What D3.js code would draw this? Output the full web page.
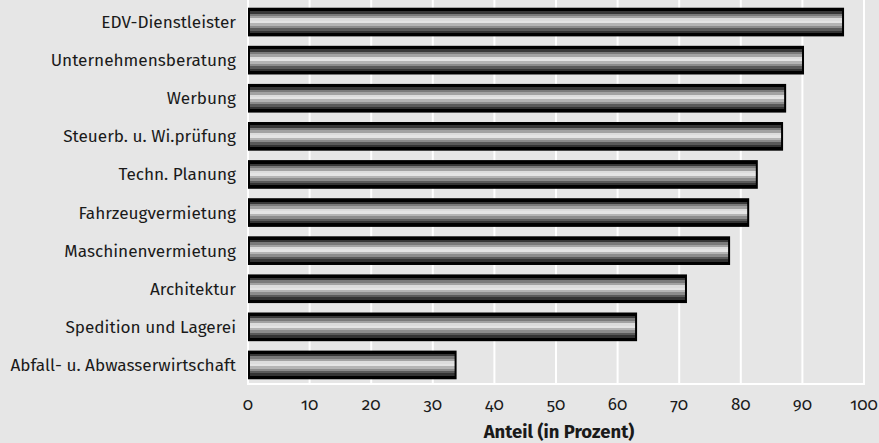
<!DOCTYPE html>
<html>
<head>
<meta charset="utf-8">
<script src="https://cdn.jsdelivr.net/npm/d3@7"></script>
<style>
  body { margin: 0; background: #e6e6e6; }
  text { font-family: "Fira Sans", "Open Sans", "Noto Sans", sans-serif; fill: #1a1a1a; }
</style>
</head>
<body>
<svg id="chart" width="879" height="443"></svg>
<script>
// Branchen und Anteile (in Prozent)
const categories = [
  "EDV-Dienstleister",
  "Unternehmensberatung",
  "Werbung",
  "Steuerb. u. Wi.prüfung",
  "Techn. Planung",
  "Fahrzeugvermietung",
  "Maschinenvermietung",
  "Architektur",
  "Spedition und Lagerei",
  "Abfall- u. Abwasserwirtschaft"
];
const values = [96.6, 90.1, 87.2, 86.7, 82.6, 81.2, 78.1, 71.1, 63.0, 33.7];
const xTicks = [0, 10, 20, 30, 40, 50, 60, 70, 80, 90, 100];

const svg = d3.select("#chart");
const W = 879, H = 443;

svg.append("rect").attr("width", W).attr("height", H).attr("fill", "#e6e6e6");

const x = d3.scaleLinear().domain([0, 100]).range([248, 864]);
const y = d3.scaleBand().domain(categories).range([3, 384])
    .paddingInner(0.3).paddingOuter(0.15);

// Gradient for the bars (horizontal stripes)
const stripes = ["#000", "#383838", "#7a7a7a", "#a2a2a2", "#dcdcdc", "#e4e4e4",
                 "#b4b4b4", "#8c8c8c", "#5a5a5a", "#333", "#000"];
const grad = svg.append("defs").append("linearGradient")
    .attr("id", "barGrad")
    .attr("x1", "0%").attr("y1", "0%")
    .attr("x2", "0%").attr("y2", "100%");
stripes.forEach((c, i) => {
    grad.append("stop").attr("offset", (i / stripes.length * 100) + "%").attr("stop-color", c);
    grad.append("stop").attr("offset", ((i + 1) / stripes.length * 100) + "%").attr("stop-color", c);
});

// Grid lines
svg.append("g").selectAll("line")
    .data(xTicks)
    .enter().append("line")
    .attr("x1", d => x(d)).attr("x2", d => x(d))
    .attr("y1", 0).attr("y2", 384)
    .attr("stroke", "#fff").attr("stroke-width", 2);

svg.append("line")
    .attr("x1", x(0) - 1).attr("x2", x(100) + 1)
    .attr("y1", 384).attr("y2", 384)
    .attr("stroke", "#fff").attr("stroke-width", 2);

// Bars
svg.append("g").selectAll("rect")
    .data(values)
    .enter().append("rect")
    .attr("x", x(0) + 1)
    .attr("y", (d, i) => y(categories[i]))
    .attr("width", d => x(d) - x(0) - 1)
    .attr("height", y.bandwidth())
    .attr("fill", "url(#barGrad)")
    .attr("stroke", "#000")
    .attr("stroke-width", 2);

// Category labels
svg.append("g").selectAll("text")
    .data(categories)
    .enter().append("text")
    .attr("x", 236)
    .attr("y", d => y(d) + y.bandwidth() / 2)
    .attr("dy", "0.35em")
    .attr("text-anchor", "end")
    .style("font-size", "17.2px")
    .text(d => d);

// X tick labels
svg.append("g").selectAll("text")
    .data(xTicks)
    .enter().append("text")
    .attr("x", d => x(d))
    .attr("y", 410)
    .attr("text-anchor", "middle")
    .style("font-size", "17px")
    .style("font-feature-settings", "'onum' 1")
    .text(d => d);

// Axis title
svg.append("text")
    .attr("x", 559)
    .attr("y", 438)
    .attr("text-anchor", "middle")
    .style("font-size", "18.5px")
    .style("font-weight", "bold")
    .text("Anteil (in Prozent)");
</script>
</body>
</html>
